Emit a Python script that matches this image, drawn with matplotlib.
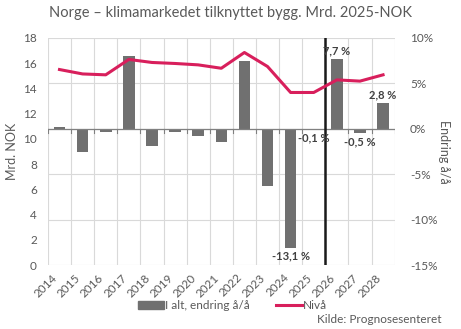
import matplotlib
matplotlib.use("Agg")
import matplotlib.pyplot as plt
from matplotlib.patches import Patch
from matplotlib.lines import Line2D
import numpy as np

plt.rcParams['font.family'] = ['Lato', 'DejaVu Sans']

years = ['2014', '2015', '2016', '2017', '2018', '2019', '2020', '2021',
         '2022', '2023', '2024', '2025', '2026', '2027', '2028']
change_pct = [0.2, -2.6, -0.4, 8.0, -1.9, -0.3, -0.8, -1.5,
              7.5, -6.3, -13.1, -0.1, 7.7, -0.5, 2.8]
level = [15.5, 15.15, 15.08, 16.3, 16.06, 15.98, 15.87, 15.6,
         16.85, 15.74, 13.68, 13.68, 14.68, 14.58, 15.08]
labelled = {'2024': '-13,1 %', '2025': '-0,1 %', '2026': '7,7 %',
            '2027': '-0,5 %', '2028': '2,8 %'}

BAR = '#707070'
LINE = '#D81F5C'
TXT = '#595959'
GRID = '#D9D9D9'

fig = plt.figure(figsize=(4.61, 3.29), dpi=100)
ax = fig.add_axes([0.104, 0.1945, 0.752, 0.69])  # left axis (level)
ax2 = ax.twinx()  # right axis (pct)

x = np.arange(len(years))

# bars on right axis
ax2.bar(x, change_pct, width=0.5, color=BAR, zorder=2)
ax2.set_ylim(-15, 10)
ax2.set_yticks([-15, -10, -5, 0, 5, 10])
ax2.set_yticklabels(['-15%', '-10%', '-5%', '0%', '5%', '10%'])
ax2.grid(axis='y', color=GRID, linewidth=0.8, zorder=0)
ax2.axhline(0, color='#808080', linewidth=0.9, zorder=3)

# vertical line between 2025 and 2026
ax2.axvline(11.5, color='#1a1a1a', linewidth=1.8, zorder=4)

# level line on left axis; draw on top by placing ax above ax2
ax.set_zorder(ax2.get_zorder() + 1)
ax.patch.set_visible(False)
ax.plot(x, level, color=LINE, linewidth=2.2, zorder=5, solid_joinstyle='round')
ax.set_ylim(0, 18)
ax.set_yticks(range(0, 19, 2))
ax.set_xlim(-0.5, len(years) - 0.5)

# vertical category gridlines
for b in np.arange(-0.5, len(years), 1.0):
    ax2.axvline(b, color=GRID, linewidth=0.8, zorder=0)

ax.set_xticks(x)
ax.set_xticklabels(years, rotation=45, ha='right', va='top', rotation_mode='default')
for a in (ax, ax2):
    for s in a.spines.values():
        s.set_visible(False)
    a.tick_params(colors=TXT, labelsize=8.5, length=0)
ax.tick_params(axis='x', pad=5)
ax.tick_params(axis='y', pad=8)
ax2.tick_params(axis='y', pad=11)

# small tick marks below zero axis at category boundaries
for b in np.arange(-0.5, len(years), 1.0):
    ax2.plot([b, b], [0, -0.45], color='#808080', linewidth=0.8, zorder=3)

ax.set_ylabel('Mrd. NOK', color=TXT, fontsize=9, labelpad=4)
ax2.set_ylabel('Endring å/å', color=TXT, fontsize=9, rotation=270, labelpad=9)

# data labels
for i, y in enumerate(years):
    if y in labelled:
        v = change_pct[i]
        if v >= 0:
            ax2.annotate(labelled[y], (i, v), xytext=(0, 2), textcoords='offset points',
                         ha='center', va='bottom', fontsize=8, fontweight='bold', color='#404040', zorder=6)
        else:
            ax2.annotate(labelled[y], (i, v), xytext=(0, -2), textcoords='offset points',
                         ha='center', va='top', fontsize=8, fontweight='bold', color='#404040', zorder=6)

fig.text(0.5, 0.962, 'Norge – klimamarkedet tilknyttet bygg. Mrd. 2025-NOK',
         ha='center', va='center', fontsize=10.5, color=TXT)

handles = [Patch(color=BAR), Line2D([0], [0], color=LINE, linewidth=2.2)]
fig.legend(handles, ['I alt, endring å/å', 'Nivå'], loc='center',
           bbox_to_anchor=(0.505, 0.072), ncol=2, frameon=False, fontsize=8.5,
           handlelength=2.2, handleheight=0.7, handletextpad=0.1, columnspacing=2.2,
           labelcolor=TXT)

fig.text(0.957, 0.012, 'Kilde: Prognosesenteret', ha='right', va='bottom',
         fontsize=8.5, color=TXT)

fig.savefig('out.png', dpi=100)
